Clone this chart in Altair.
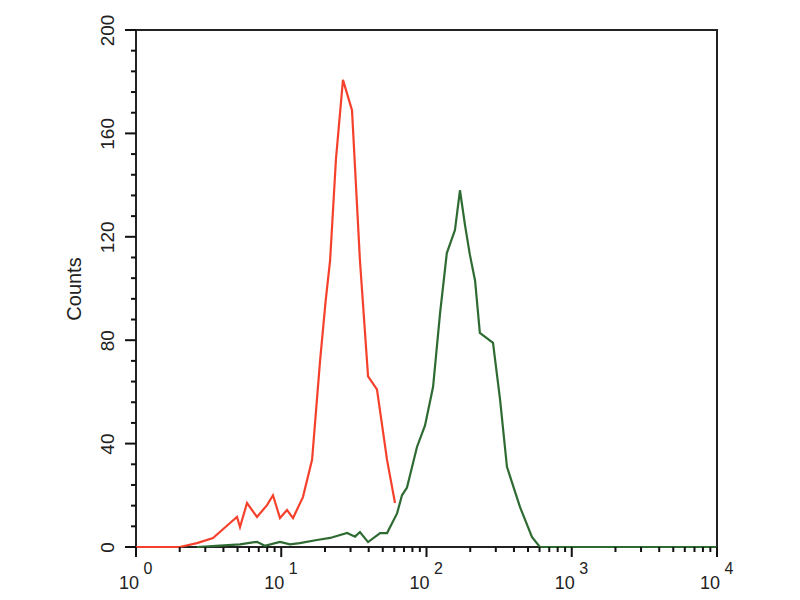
import altair as alt
import pandas as pd

# Red histogram (isotype control)
red_x = [1.0, 2.0, 2.63, 3.39, 4.44, 4.96, 5.2, 5.81, 6.81, 7.98, 8.77, 9.8, 10.96, 12.05,
         14.1, 16.3, 18.5, 20.2, 21.7, 23.8, 26.6, 30.7, 34.8, 39.6, 45.6, 53.5, 60.7]
red_y = [0, 0, 1.5, 3.5, 9.3, 11.6, 7.7, 17, 11.6, 16.2, 20, 11.2, 14.3, 11.2,
         19.3, 33.7, 72, 95, 111, 150, 180.7, 169, 111, 66, 61, 33.7, 17]

# Green histogram (antibody stained)
green_x = [2.63, 3.79, 5.2, 6.81, 7.7, 9.8, 11.5, 13.4, 17.6, 21.7, 28.4, 32.2, 34.8, 39.6,
           47.9, 53.5, 62.7, 67.8, 73.4, 86, 97.7, 111, 124, 138, 157, 170, 184, 199,
           216, 233, 287, 321, 358, 440, 532, 603, 10000]
green_y = [0, 0.5, 1, 2, 0.5, 2, 1, 1.5, 2.7, 3.5, 5.4, 4, 5.8, 1.9,
           5.4, 5.4, 13, 20, 23, 38.7, 47, 62, 90.5, 113.7, 122.6, 138, 124.6, 113,
           103, 82.8, 79, 57, 31, 15.5, 3.9, 0, 0]

x_major = [1, 10, 100, 1000, 10000]
x_base = ["10", "10", "10", "10", "10"]
x_exp = ["0", "1", "2", "3", "4"]
x_minor = [m * d for d in [1, 10, 100, 1000] for m in range(2, 10)]
y_major = [0, 40, 80, 120, 160, 200]
y_minor = [v for v in range(0, 201, 8) if v % 40 != 0]

W, H = 581, 517

red = pd.DataFrame({"x": red_x, "y": red_y, "o": range(len(red_x))})
green = pd.DataFrame({"x": green_x, "y": green_y, "o": range(len(green_x))})
xm = pd.DataFrame({"x": x_minor})
ym = pd.DataFrame({"y": y_minor})
xM = pd.DataFrame({"xv": x_major})
yM = pd.DataFrame({"yv": y_major})
xl = pd.DataFrame({"x": x_major, "base": x_base, "exp": x_exp})

x_scale = alt.Scale(type="log", domain=[1, 10000], nice=False)
y_scale = alt.Scale(domain=[0, 200], nice=False)

x_axis = alt.Axis(labels=False, ticks=False, grid=False, domain=False, title=None)
y_axis = alt.Axis(
    values=y_major, grid=False, domain=False, ticks=False,
    labelFont="Liberation Sans", labelFontSize=19,
    labelColor="#222", labelAngle=270, labelPadding=19, title="Counts",
    titleFont="Liberation Sans", titleFontSize=20, titleFontWeight="normal",
    titleColor="#222", titlePadding=14, labelOverlap=False, labelFlush=False,
)

red_line = alt.Chart(red).mark_line(color="#f5412c", strokeWidth=2.2).encode(
    x=alt.X("x:Q", scale=x_scale, axis=x_axis),
    y=alt.Y("y:Q", scale=y_scale, axis=y_axis),
    order="o:Q",
)
green_line = alt.Chart(green).mark_line(color="#2e6b32", strokeWidth=2.2).encode(
    x=alt.X("x:Q", scale=x_scale),
    y=alt.Y("y:Q", scale=y_scale),
    order="o:Q",
)
x_minor_ticks = alt.Chart(xm).mark_rule(color="#111", strokeWidth=2).encode(
    x=alt.X("x:Q", scale=x_scale),
    y=alt.value(H), y2=alt.value(H + 5),
)
y_minor_ticks = alt.Chart(ym).mark_rule(color="#111", strokeWidth=2).encode(
    y=alt.Y("y:Q", scale=y_scale),
    x=alt.value(0), x2=alt.value(-5),
)
x_major_ticks = alt.Chart(xM).mark_rule(color="#111", strokeWidth=2).encode(
    x=alt.X("xv:Q", scale=x_scale),
    y=alt.value(H), y2=alt.value(H + 10),
)
y_major_ticks = alt.Chart(yM).mark_rule(color="#111", strokeWidth=2).encode(
    y=alt.Y("yv:Q", scale=y_scale),
    x=alt.value(0), x2=alt.value(-11),
)
x_base_text = alt.Chart(xl).mark_text(
    font="Liberation Sans", fontSize=18, color="#222", align="center", baseline="alphabetic", dx=-7
).encode(
    x=alt.X("x:Q", scale=x_scale),
    y=alt.value(H + 42),
    text="base:N",
)
x_exp_text = alt.Chart(xl).mark_text(
    font="Liberation Sans", fontSize=16, color="#222", align="center", baseline="alphabetic", dx=12
).encode(
    x=alt.X("x:Q", scale=x_scale),
    y=alt.value(H + 27),
    text="exp:N",
)

chart = alt.layer(
    red_line, green_line, x_minor_ticks, y_minor_ticks, x_major_ticks, y_major_ticks,
    x_base_text, x_exp_text,
).properties(
    width=W, height=H,
    autosize=alt.AutoSizeParams(type="none"),
    padding={"left": 128, "top": 22, "right": 40, "bottom": 52},
).configure_view(stroke="#222", strokeWidth=2, clip=False)

chart.save("out.html", embed_options={"renderer": "svg", "actions": False})
